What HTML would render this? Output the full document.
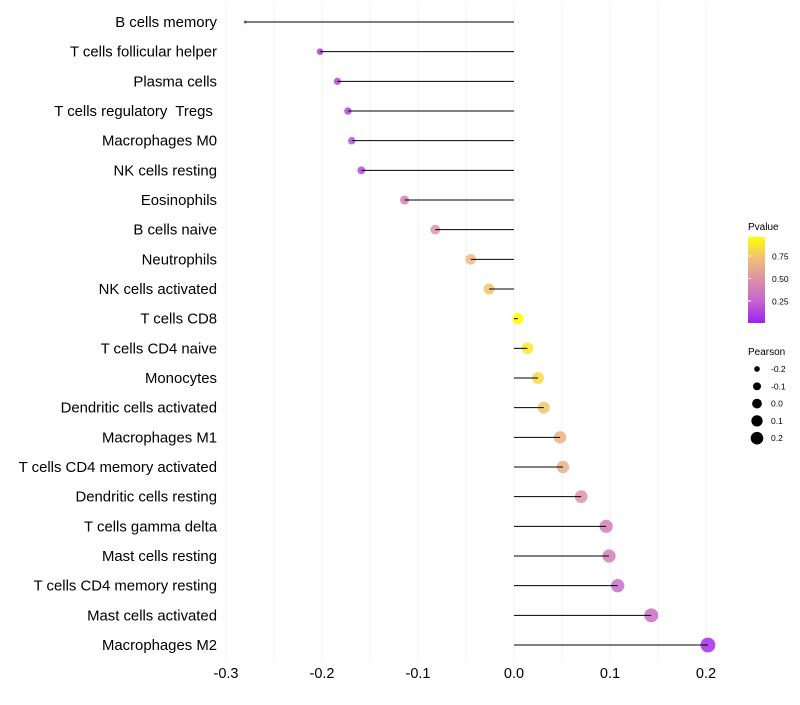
<!DOCTYPE html>
<html><head><meta charset="utf-8"><style>
body{margin:0;background:#fff;font-family:"Liberation Sans",sans-serif;}
text{white-space:pre;}
</style></head><body>
<svg id="chart" width="800" height="700" xmlns="http://www.w3.org/2000/svg" font-family="Liberation Sans, sans-serif">
<g id="grid"></g>
<g id="marks"></g>
<g id="ylabels"></g>
<g id="xlabels"></g>
<g id="legend">
  <defs><linearGradient id="pg" x1="0" y1="1" x2="0" y2="0">
    <stop offset="0" stop-color="#A020F0"/><stop offset="0.25" stop-color="#C463D0"/>
    <stop offset="0.5" stop-color="#DD90A8"/><stop offset="0.75" stop-color="#F0BE78"/>
    <stop offset="1" stop-color="#FFFF00"/></linearGradient></defs>
  <text x="748" y="230" font-size="10">Pvalue</text>
  <rect x="748" y="237" width="17" height="86" fill="url(#pg)"/>
  <g id="cbticks"></g>
  <text x="748" y="355" font-size="10">Pearson</text>
  <g id="sizeleg"></g>
</g>
</svg>
<script>
const categories=["B cells memory","T cells follicular helper","Plasma cells","T cells regulatory  Tregs ","Macrophages M0","NK cells resting","Eosinophils","B cells naive","Neutrophils","NK cells activated","T cells CD8","T cells CD4 naive","Monocytes","Dendritic cells activated","Macrophages M1","T cells CD4 memory activated","Dendritic cells resting","T cells gamma delta","Mast cells resting","T cells CD4 memory resting","Mast cells activated","Macrophages M2"];
const pearson=[-0.280,-0.202,-0.184,-0.173,-0.169,-0.159,-0.114,-0.082,-0.045,-0.026,0.004,0.014,0.025,0.031,0.048,0.051,0.070,0.096,0.099,0.108,0.143,0.202];
const pvalue=[0.03,0.1,0.13,0.15,0.18,0.15,0.4,0.5,0.7,0.75,0.96,0.88,0.82,0.75,0.66,0.64,0.5,0.4,0.4,0.3,0.3,0.05];
const xTicks=[-0.3,-0.2,-0.1,0.0,0.1,0.2];
const xTickLabels=["-0.3","-0.2","-0.1","0.0","0.1","0.2"];
const cbTicks=[0.25,0.5,0.75];
const sizeLegend=[-0.2,-0.1,0.0,0.1,0.2];
const NS="http://www.w3.org/2000/svg";
const x=v=>514+v*960;
const y=i=>22+i*(623/21);
const cbY=p=>323-(p-0.006)/(0.954)*86;
const pmin=-0.28,pmax=0.202;
const r=v=>Math.sqrt(2.25+(55-2.25)*Math.max(0,(v-pmin)/(pmax-pmin)));
const stops=[[160,32,240],[196,99,208],[221,144,168],[240,190,120],[255,255,0]];
function col(p){let t=Math.min(1,Math.max(0,(p-0.006)/0.954))*4;let i=Math.min(3,Math.floor(t));let f=t-i;
 const c=stops[i].map((a,k)=>Math.round(a+(stops[i+1][k]-a)*f));return `rgb(${c})`;}
function mk(tag,at,parent){const e=document.createElementNS(NS,tag);for(const k in at)e.setAttribute(k,at[k]);document.getElementById(parent).appendChild(e);return e;}
for(let v=-0.3;v<=0.2001;v+=0.05){
 const g=mk('line',{x1:x(v),x2:x(v),y1:5,y2:663,stroke:'#f0f0f0','stroke-width':1},'grid');
 
 
}
xTicks.forEach((v,i)=>{
 const t=mk('text',{x:x(v),y:678,'font-size':14.5,'text-anchor':'middle',fill:'#000'},'xlabels');
 t.textContent=xTickLabels[i];
 
 
});
categories.forEach((c,i)=>{
 const t=mk('text',{x:217,y:y(i)+5,'font-size':14.9,'text-anchor':'end',fill:'#000'},'ylabels');
 t.textContent=c;
 
 
 const p=mk('circle',{cx:x(pearson[i]),cy:y(i),r:r(pearson[i]),fill:col(pvalue[i]),'fill-opacity':0.85},'marks');
 
 
 const l=mk('line',{x1:x(0),x2:x(pearson[i]),y1:y(i),y2:y(i),stroke:'#000','stroke-width':1},'marks');
 
 
});
cbTicks.forEach(p=>{
 const t=mk('text',{x:772,y:cbY(p)+3.5,'font-size':8.5},'cbticks');t.textContent=p.toFixed(2);
 
 
 const l=mk('line',{x1:748,x2:751,y1:cbY(p),y2:cbY(p),stroke:'#fff'},'cbticks');
 
 
});
sizeLegend.forEach((v,i)=>{
 const cy=369+i*17.3;
 const c=mk('circle',{cx:757,cy:cy,r:r(v)*0.85,fill:'#000'},'sizeleg');
 
 
 const t=mk('text',{x:771,y:cy+3,'font-size':8.5},'sizeleg');t.textContent=v.toFixed(1);
 
 
});
</script>
</body></html>
